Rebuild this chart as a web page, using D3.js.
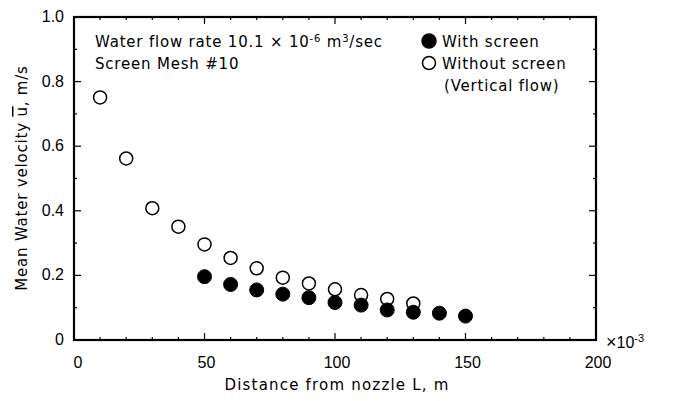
<!DOCTYPE html>
<html>
<head>
<meta charset="utf-8">
<script src="https://cdn.jsdelivr.net/npm/d3@7"></script>
<style>
  body { margin: 0; background: #fff; }
  svg text { fill: #000; }
  .tick-label { font-family: 'Liberation Sans', Arial, sans-serif; font-size: 16px; }
  .note { font-family: 'DejaVu Sans', sans-serif; font-size: 15px; letter-spacing: 0.8px; }
</style>
</head>
<body>
<svg width="683" height="401"></svg>
<script>
'use strict'

// distance from nozzle (x10^-3 m)
const withoutX = [10, 20, 30, 40, 50, 60, 70, 80, 90, 100, 110, 120, 130]
const withoutU = [0.751, 0.562, 0.408, 0.351, 0.296, 0.254, 0.222, 0.193, 0.175, 0.157, 0.139, 0.127, 0.113]
const withX = [50, 60, 70, 80, 90, 100, 110, 120, 130, 140, 150]
const withU = [0.196, 0.172, 0.155, 0.142, 0.131, 0.116, 0.108, 0.093, 0.086, 0.083, 0.074]
const xTicks = [0, 50, 100, 150, 200]
const yTicks = [0, 0.2, 0.4, 0.6, 0.8, 1.0]

const svg = d3.select('svg')
const plotLeft = 74
const plotRight = 596
const plotTop = 17
const plotBottom = 340

const xScale = d3.scaleLinear().domain([0, 200]).range([plotLeft, plotRight])
const yScale = d3.scaleLinear().domain([0, 1]).range([plotBottom, plotTop])

// frame
svg.append('rect')
  .attr('x', plotLeft).attr('y', plotTop)
  .attr('width', plotRight - plotLeft).attr('height', plotBottom - plotTop)
  .style('fill', 'none').style('stroke', '#000').style('stroke-width', 2.2)

// x ticks (bottom and top, inward)
const xMinor = d3.range(0, 201, 10)
xMinor.forEach((v) => {
  const len = v % 50 === 0 ? 7 : 3
  svg.append('line')
    .attr('x1', xScale(v)).attr('x2', xScale(v))
    .attr('y1', plotBottom).attr('y2', plotBottom - len)
    .style('stroke', '#000').style('stroke-width', 1.2)
  svg.append('line')
    .attr('x1', xScale(v)).attr('x2', xScale(v))
    .attr('y1', plotTop).attr('y2', plotTop + len)
    .style('stroke', '#000').style('stroke-width', 1.2)
})

// y ticks (left and right, inward)
const yMinor = d3.range(0, 1.001, 0.1)
yMinor.forEach((v, i) => {
  const len = i % 2 === 0 ? 7 : 3
  svg.append('line')
    .attr('x1', plotLeft).attr('x2', plotLeft + len)
    .attr('y1', yScale(v)).attr('y2', yScale(v))
    .style('stroke', '#000').style('stroke-width', 1.2)
  svg.append('line')
    .attr('x1', plotRight).attr('x2', plotRight - len)
    .attr('y1', yScale(v)).attr('y2', yScale(v))
    .style('stroke', '#000').style('stroke-width', 1.2)
})

// tick labels
svg.selectAll('text.xlab')
  .data(xTicks)
  .enter().append('text').classed('tick-label', true)
  .attr('x', (d) => xScale(d) + (d === 0 ? 4 : 2))
  .attr('y', 368)
  .attr('text-anchor', 'middle')
  .text((d) => d)

svg.selectAll('text.ylab')
  .data(yTicks)
  .enter().append('text').classed('tick-label', true)
  .attr('x', 64)
  .attr('y', (d) => yScale(d) + 5)
  .attr('text-anchor', 'end')
  .text((d) => d === 0 ? '0' : d.toFixed(1))

// x10^-3
const mult = svg.append('text').classed('tick-label', true)
  .attr('x', 606).attr('y', 348).style('font-size', '18px')
mult.append('tspan').text('\u00d7')
mult.append('tspan').style('font-size', '16px').text('10')
mult.append('tspan').attr('dy', -6).style('font-size', '11px').text('-3')

// axis titles
svg.append('text').classed('note', true)
  .attr('x', 337).attr('y', 390)
  .attr('text-anchor', 'middle')
  .style('letter-spacing', '1.2px')
  .text('Distance from nozzle L,  m')

const yTitle = svg.append('text').classed('note', true)
  .attr('transform', 'translate(27, 178) rotate(-90)')
  .attr('text-anchor', 'middle')
yTitle.append('tspan').text('Mean Water velocity ')
yTitle.append('tspan').style('text-decoration', 'overline').text('u')
yTitle.append('tspan').text(', m/s')

// annotations
const note1 = svg.append('text').classed('note', true)
  .attr('x', 95).attr('y', 47)
note1.append('tspan').text('Water flow rate 10.1 \u00d7 10')
note1.append('tspan').attr('dy', -5).style('font-size', '10px').text('-6')
note1.append('tspan').attr('dy', 5).text(' m')
note1.append('tspan').attr('dy', -5).style('font-size', '10px').text('3')
note1.append('tspan').attr('dy', 5).text('/sec')

svg.append('text').classed('note', true)
  .attr('x', 95).attr('y', 69)
  .text('Screen Mesh #10')

// legend
svg.append('circle')
  .attr('cx', 429).attr('cy', 41).attr('r', 7)
  .style('fill', '#000').style('stroke', '#000').style('stroke-width', 1.5)
svg.append('circle')
  .attr('cx', 429).attr('cy', 63).attr('r', 6.5)
  .style('fill', '#fff').style('stroke', '#000').style('stroke-width', 1.5)
svg.append('text').classed('note', true).attr('x', 442).attr('y', 47).text('With screen')
svg.append('text').classed('note', true).attr('x', 442).attr('y', 69).text('Without screen')
svg.append('text').classed('note', true).attr('x', 444).attr('y', 91).text('(Vertical flow)')

// data points
svg.selectAll('circle.without')
  .data(withoutX.map((x, i) => [x, withoutU[i]]))
  .enter().append('circle').classed('without', true)
  .attr('cx', (d) => xScale(d[0]))
  .attr('cy', (d) => yScale(d[1]))
  .attr('r', 6.5)
  .style('fill', '#fff').style('stroke', '#000').style('stroke-width', 1.5)

svg.selectAll('circle.with')
  .data(withX.map((x, i) => [x, withU[i]]))
  .enter().append('circle').classed('with', true)
  .attr('cx', (d) => xScale(d[0]))
  .attr('cy', (d) => yScale(d[1]))
  .attr('r', 7)
  .style('fill', '#000').style('stroke', '#000').style('stroke-width', 1)
</script>
</body>
</html>
